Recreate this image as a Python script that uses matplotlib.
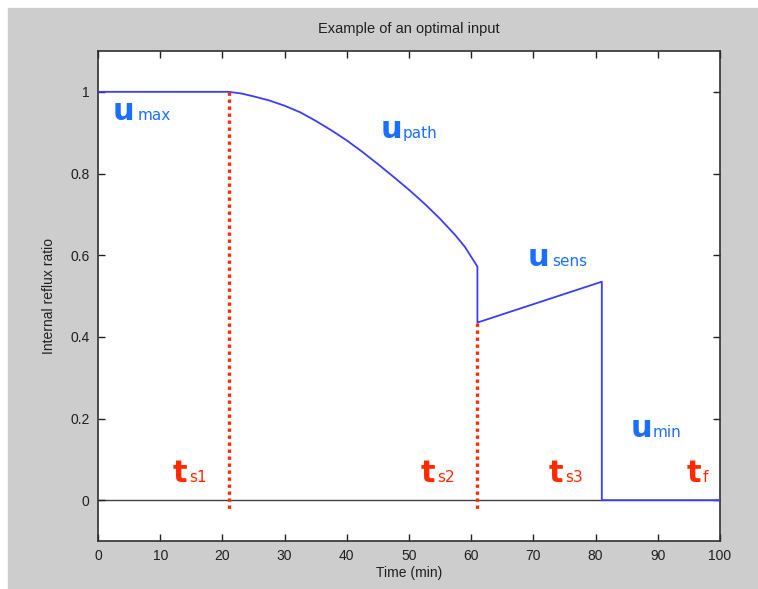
import matplotlib
matplotlib.use("Agg")
import matplotlib.pyplot as plt
from matplotlib.patches import Rectangle

# arc segment (u_path)
path_t = [21, 23, 25, 27.5, 30, 32.5, 35, 37.5, 40, 42.5, 45, 47.5, 50, 52.5, 55, 57.5, 59, 61]
path_u = [1.0, 0.996, 0.989, 0.979, 0.966, 0.950, 0.929, 0.906, 0.881, 0.853,
          0.823, 0.792, 0.760, 0.726, 0.689, 0.648, 0.620, 0.572]

# sensitivity segment (u_sens)
sens_t = [61, 81]
sens_u = [0.435, 0.535]

u_max = 1.0
u_min = 0.0
t_s1, t_s2, t_s3, t_f = 21, 61, 81, 100

# full input trajectory
t = [0, t_s1] + path_t[1:] + sens_t + [t_s3, t_f]
u = [u_max, u_max] + path_u[1:] + sens_u + [u_min, u_min]

yticks = [0, 0.2, 0.4, 0.6, 0.8, 1]
ytick_labels = ["0", "0.2", "0.4", "0.6", "0.8", "1"]
xticks = list(range(0, 101, 10))

plt.rcParams['font.family'] = ['Liberation Sans', 'DejaVu Sans']

fig = plt.figure(figsize=(7.58, 5.89), dpi=100, facecolor='white')
fig.patches.append(Rectangle((8/758, 0), 1, 581/589, transform=fig.transFigure,
                             color='#cdcdcd', zorder=-10))
ax = fig.add_axes([98/758, 1 - 541/589, 622/758, 490/589])

blue = '#3c3cff'
lblue = '#1a6fff'
red = '#ff2a00'

ax.axhline(0, color='#404040', lw=1.0, zorder=1)
ax.plot(t, u, color=blue, lw=1.3, zorder=3)

# switching times
ax.plot([t_s1, t_s1], [u_max, -0.03], color=red, lw=2.4, ls=(0, (1, 1.1)), zorder=4)
ax.plot([t_s2, t_s2], [sens_u[0], -0.03], color=red, lw=2.4, ls=(0, (1, 1.1)), zorder=4)


def lab(x, y, main, sub, xs, color):
    ax.text(x, y, main, color=color, fontsize=22, fontweight='bold',
            family='DejaVu Sans', va='baseline', ha='left')
    ax.text(xs, y, sub, color=color, fontsize=11, family='DejaVu Sans',
            va='baseline', ha='left')


lab(2.4, 0.93, "u", "max", 6.3, lblue)
lab(45.5, 0.887, "u", "path", 48.9, lblue)
lab(69.1, 0.574, "u", "sens", 73.0, lblue)
lab(85.7, 0.154, "u", "min", 89.2, lblue)
lab(12.0, 0.045, "t", "s1", 14.6, red)
lab(51.9, 0.045, "t", "s2", 54.5, red)
lab(72.5, 0.045, "t", "s3", 75.1, red)
lab(94.7, 0.045, "t", "f", 97.2, red)

ax.set_xlim(0, 100)
ax.set_ylim(-0.1, 1.1)
ax.set_xticks(xticks)
ax.set_yticks(yticks)
ax.set_yticklabels(ytick_labels)
ax.tick_params(direction='in', top=True, right=True, length=5, width=1,
               labelsize=10, colors='#202020', pad=6)
for s in ax.spines.values():
    s.set_color('#303030')
    s.set_linewidth(1.2)

ax.set_title("Example of an optimal input", fontsize=10.5, color='#202020', pad=13)
ax.set_xlabel("Time (min)", fontsize=10, color='#202020', labelpad=2)
ax.set_ylabel("Internal reflux ratio", fontsize=10, color='#202020', labelpad=10)

fig.savefig("out.png", dpi=100)
